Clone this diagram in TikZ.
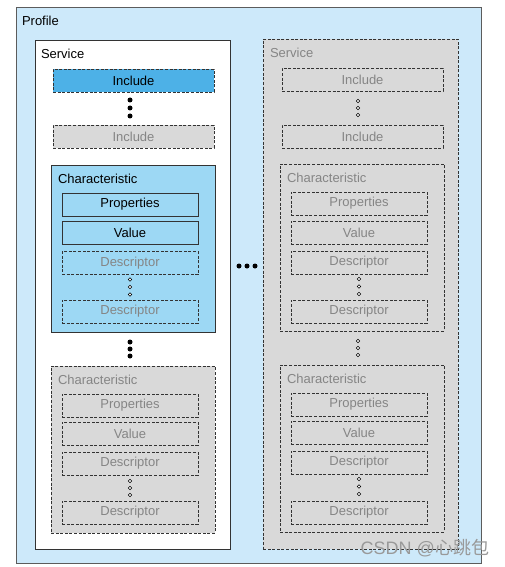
\documentclass[tikz,border=0pt]{standalone}
\usepackage{fontspec}
\setmainfont{Liberation Sans}
\newfontfamily\cjkfont{Noto Sans CJK SC}
\definecolor{profbg}{HTML}{CDE9FA}
\definecolor{incblue}{HTML}{4DB1E7}
\definecolor{charblue}{HTML}{9DD8F4}
\definecolor{boxgray}{HTML}{D9D9D9}
\definecolor{txtgray}{HTML}{858585}
\definecolor{edge}{HTML}{333333}
\begin{document}
\begin{tikzpicture}[x=1pt,y=-1pt,
  every node/.style={font=\fontsize{13}{15}\selectfont, inner sep=0pt, outer sep=0pt},
  solidbox/.style={draw=edge, line width=0.8pt, rectangle},
  dashbox/.style={draw=edge, line width=0.8pt, rectangle, dash pattern=on 3pt off 1.6pt},
  bluebox/.style={solidbox, fill=charblue},
  incbox/.style={dashbox, fill=incblue},
  graybox/.style={dashbox, fill=boxgray, text=txtgray},
  wideitem/.style={minimum width=161pt, minimum height=23pt},
  item/.style={minimum width=136pt, minimum height=23pt},
  charbox/.style={minimum width=164pt, minimum height=167pt},
  lbl/.style={anchor=west},
  glbl/.style={anchor=west, text=txtgray},
  bigdot/.style={circle, fill=black, minimum size=5pt},
  smalldot/.style={circle, draw=black, fill=white, line width=0.6pt, minimum size=3.4pt}
]
\useasboundingbox (0,0) rectangle (504,567);
\fill[white] (0,0) rectangle (504,567);

% Profile
\node[solidbox, fill=profbg, draw=edge!80, minimum width=465pt, minimum height=556pt] (profile) at (248.5,285) {};
\node[lbl] (profilelbl) at (22,21) {Profile};

% Left service
\node[solidbox, fill=white, minimum width=195pt, minimum height=509pt] (svcL) at (132.5,294.5) {};
\node[lbl] (svcLlbl) at (41,54) {Service};
\node[incbox, wideitem] (incL1) at (133.5,80.5) {Include};
\node[bigdot] (dL1) at (130,100) {};
\node[bigdot] (dL2) at (130,108) {};
\node[bigdot] (dL3) at (130,116) {};
\node[graybox, wideitem] (incL2) at (133.5,136.5) {Include};

% Left characteristic 1 (blue)
\node[bluebox, charbox] (chL1) at (133,248.5) {};
\node[lbl] (chL1lbl) at (58,179) {Characteristic};
\node[bluebox, item] (prL1) at (130,204.5) {Properties};
\node[bluebox, item] (vaL1) at (130,232.5) {Value};
\node[dashbox, item, text=txtgray] (deL1a) at (130,263) {Descriptor};
\node[smalldot] (sL1a) at (130,279.5) {};
\node[smalldot] (sL1b) at (130,287) {};
\node[smalldot] (sL1c) at (130,294.5) {};
\node[dashbox, item, text=txtgray] (deL1b) at (130,311.5) {Descriptor};

\node[bigdot] (dL4) at (130,342) {};
\node[bigdot] (dL5) at (130,349) {};
\node[bigdot] (dL6) at (130,356) {};

% Left characteristic 2 (gray)
\node[graybox, charbox] (chL2) at (133,449.5) {};
\node[glbl] (chL2lbl) at (58,380) {Characteristic};
\node[graybox, item] (prL2) at (130,405.5) {Properties};
\node[graybox, item] (vaL2) at (130,433.5) {Value};
\node[graybox, item] (deL2a) at (130,463.5) {Descriptor};
\node[smalldot] (sL2a) at (130,481) {};
\node[smalldot] (sL2b) at (130,488) {};
\node[smalldot] (sL2c) at (130,495) {};
\node[graybox, item] (deL2b) at (130,512.5) {Descriptor};

% middle dots
\node[bigdot] (m1) at (239,266) {};
\node[bigdot] (m2) at (247,266) {};
\node[bigdot] (m3) at (255,266) {};

% Right service (gray)
\node[graybox, minimum width=195pt, minimum height=510pt] (svcR) at (360.5,294) {};
\node[glbl] (svcRlbl) at (270,53) {Service};
\node[graybox, wideitem] (incR1) at (362.5,80) {Include};
\node[smalldot] (sR1) at (358,101) {};
\node[smalldot] (sR2) at (358,108) {};
\node[smalldot] (sR3) at (358,115) {};
\node[graybox, wideitem] (incR2) at (362.5,136.5) {Include};

\node[graybox, charbox] (chR1) at (362,247.5) {};
\node[glbl] (chR1lbl) at (287,178) {Characteristic};
\node[graybox, item] (prR1) at (359,203.5) {Properties};
\node[graybox, item] (vaR1) at (359,232.5) {Value};
\node[graybox, item] (deR1a) at (359,262.5) {Descriptor};
\node[smalldot] (sR4) at (359,279) {};
\node[smalldot] (sR5) at (359,286.5) {};
\node[smalldot] (sR6) at (359,294) {};
\node[graybox, item] (deR1b) at (359,311.5) {Descriptor};

\node[smalldot] (sR7) at (358,341) {};
\node[smalldot] (sR8) at (358,348) {};
\node[smalldot] (sR9) at (358,355) {};

\node[graybox, charbox] (chR2) at (362,448.5) {};
\node[glbl] (chR2lbl) at (287,379) {Characteristic};
\node[graybox, item] (prR2) at (359,404.5) {Properties};
\node[graybox, item] (vaR2) at (359,432.5) {Value};
\node[graybox, item] (deR2a) at (359,462.5) {Descriptor};
\node[smalldot] (sR10) at (359,479) {};
\node[smalldot] (sR11) at (359,486.5) {};
\node[smalldot] (sR12) at (359,494) {};
\node[graybox, item] (deR2b) at (359,512.5) {Descriptor};

% watermark
\node[anchor=east, text=black!40, font=\fontsize{18}{20}\selectfont] (wm) at (489,548) {CSDN @{\cjkfont 心跳包}};
\end{tikzpicture}
\end{document}
